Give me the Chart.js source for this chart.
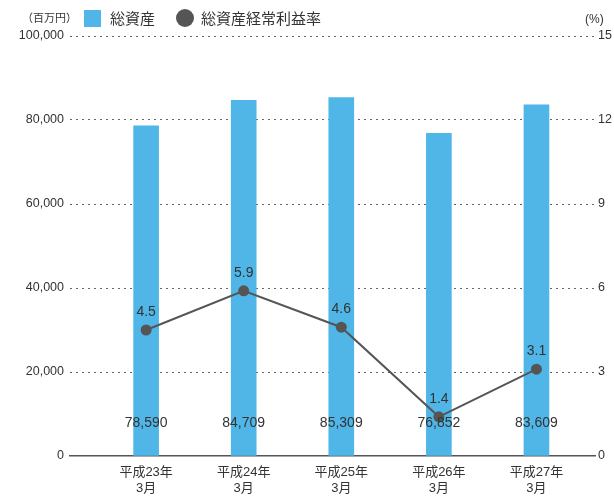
<!DOCTYPE html>
<html>
<head>
<meta charset="utf-8">
<script src="https://cdn.jsdelivr.net/npm/chart.js@4/dist/chart.umd.min.js"></script>
<style>
  html, body { margin:0; padding:0; background:#fff; }
  #wrap { position:relative; width:614px; height:496px; font-family:"Liberation Sans","Noto Sans CJK JP",sans-serif; color:#333; }
  canvas { position:absolute; left:0; top:0; }
  .lbl { position:absolute; white-space:nowrap; line-height:1; }
  .unit { font-size:11px; top:13px; }
  .leg { font-size:15px; top:10px; font-family:"Noto Sans CJK JP",sans-serif; }
  .sw { position:absolute; }
</style>
</head>
<body>
<div id="wrap">
  <canvas id="c" width="614" height="496"></canvas>
  <div class="lbl unit" style="left:22px;">（百万円）</div>
  <div class="sw" style="left:84px;top:10px;width:17px;height:17px;background:#4fb6e7;"></div>
  <div class="lbl leg" style="left:110px;">総資産</div>
  <div class="sw" style="left:176px;top:9px;width:18px;height:18px;border-radius:50%;background:#555;"></div>
  <div class="lbl leg" style="left:201px;">総資産経常利益率</div>
  <div class="lbl unit" style="left:585px;font-size:12px;">(%)</div>
</div>
<script>
// ── Data ─────────────────────────────────────────────
const categories = [['平成23年','3月'], ['平成24年','3月'], ['平成25年','3月'], ['平成26年','3月'], ['平成27年','3月']];
const totalAssets = [78590, 84709, 85309, 76852, 83609];   // 百万円
const roa = [4.5, 5.9, 4.6, 1.4, 3.1];                     // %
const leftTicks = [0, 20000, 40000, 60000, 80000, 100000];
const rightTicks = [0, 3, 6, 9, 12, 15];

const BLUE = '#4fb6e7';
const DARK = '#555555';
const FONT = '"Liberation Sans", "Noto Sans CJK JP", sans-serif';

// ── Value labels ─────────────────────────────────────
const labelPlugin = {
  id: 'valueLabels',
  afterDatasetsDraw(chart) {
    const c = chart.ctx;
    const y = chart.scales.y;
    c.save();
    c.fillStyle = '#333';
    c.textAlign = 'center';
    c.textBaseline = 'middle';
    c.font = '14px ' + FONT;
    chart.getDatasetMeta(1).data.forEach((bar, i) => {
      c.fillText(totalAssets[i].toLocaleString('en-US'), bar.x, y.bottom - 33);
    });
    chart.getDatasetMeta(0).data.forEach((pt, i) => {
      c.fillText(roa[i].toFixed(1), pt.x, pt.y - 18);
    });
    c.restore();
  }
};

new Chart(document.getElementById('c'), {
  data: {
    datasets: [
      { type:'line', data: roa.map((v, i) => ({ x:i, y:v })), yAxisID:'y2', order:0,
        borderColor: DARK, borderWidth: 2, pointRadius: 5.5, pointBackgroundColor: DARK, pointBorderWidth: 0, tension: 0 },
      { type:'bar', data: totalAssets.map((v, i) => ({ x:i, y:v })), yAxisID:'y', order:1,
        backgroundColor: BLUE, barThickness: 25 }
    ]
  },
  options: {
    responsive: false, animation: false,
    layout: { padding: { top: 36, left: 0, right: 0, bottom: 0 } },
    plugins: { legend: { display:false }, tooltip: { enabled:false } },
    scales: {
      x: {
        type:'linear', min:-0.78, max:4.6, offset:false,
        afterBuildTicks: s => { s.ticks = categories.map((_, i) => ({ value:i })); },
        afterFit: s => { s.height = 40; },
        grid: { display:false, drawTicks:false },
        border: { display:true, color: DARK, width: 1.5 },
        ticks: { autoSkip:false, maxRotation:0, padding:9, color:'#333', font:{ family:FONT, size:13, lineHeight:1.2 }, callback: v => categories[v] }
      },
      y: {
        position:'left', min:0, max:100000,
        afterBuildTicks: s => { s.ticks = leftTicks.map(v => ({ value:v })); },
        afterFit: s => { s.width = 70; },
        border: { display:false, dash:[2,4] },
        grid: { drawTicks:false, color: ctx => ctx.tick.value === 0 ? 'rgba(0,0,0,0)' : '#666', lineWidth:1 },
        ticks: { padding:6, color:'#333', font:{ family:FONT, size:12.5 }, callback: v => v.toLocaleString('en-US') }
      },
      y2: {
        position:'right', min:0, max:15,
        afterBuildTicks: s => { s.ticks = rightTicks.map(v => ({ value:v })); },
        afterFit: s => { s.width = 19; },
        border: { display:false },
        grid: { display:false, drawTicks:false },
        ticks: { padding:3, color:'#333', font:{ family:FONT, size:12.5 } }
      }
    }
  },
  plugins: [labelPlugin]
});
</script>
</body>
</html>
